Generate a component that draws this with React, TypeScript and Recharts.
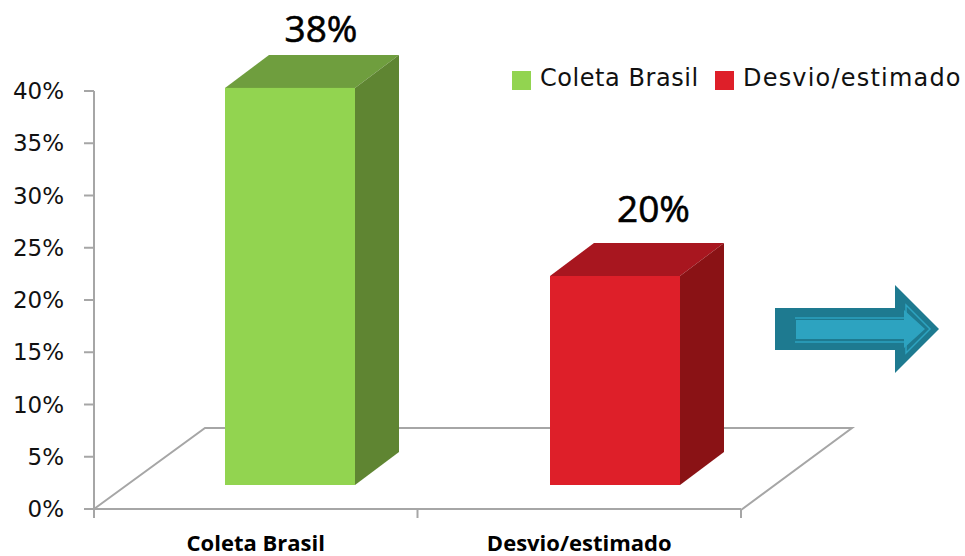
import { BarChart, Bar, XAxis, YAxis, LabelList, Customized } from 'recharts'

const categories = ['Coleta Brasil', 'Desvio/estimado']
const coletaValues = [38, null]
const desvioValues = [null, 20]
const yTicks = [0, 5, 10, 15, 20, 25, 30, 35, 40]

const records = categories.map((name, i) => ({
  name,
  coleta: coletaValues[i],
  desvio: desvioValues[i],
}))

const GREEN = { front: '#92d450', top: '#6f9e3e', side: '#5f8532' }
const RED = { front: '#de1f29', top: '#a8161f', side: '#8a1215' }
const AXIS = '#a6a6a6'
const SANS = '"DejaVu Sans", sans-serif'

// the fake 3D: boxes sit up and right of their band, with this depth
const SHIFT_Y = -24
const DEPTH_X = 44
const DEPTH_Y = 33
const HALF_BAND = 323.5 / 2

function box(colors: typeof GREEN, shiftX: number) {
  return function Box(props: any) {
    const { x, y, width, height } = props
    if (!height) return null
    const l = x + shiftX
    const r = l + width
    const t = y + SHIFT_Y
    const b = t + height
    const dx = DEPTH_X
    const dy = DEPTH_Y
    return (
      <g>
        <polygon points={`${l},${t} ${l + dx},${t - dy} ${r + dx},${t - dy} ${r},${t}`} fill={colors.top} />
        <polygon points={`${r},${t} ${r + dx},${t - dy} ${r + dx},${b - dy} ${r},${b}`} fill={colors.side} />
        <rect x={l} y={t} width={width} height={height} fill={colors.front} />
      </g>
    )
  }
}

function boxLabel(dx: number, dy: number) {
  return function BoxLabel(props: any) {
    const { x, y, width, value } = props
    if (value == null) return null
    return (
      <text
        x={x + width / 2 + dx}
        y={y + SHIFT_Y - DEPTH_Y - dy}
        textAnchor="middle"
        fontFamily='"Open Sans", sans-serif'
        fontSize={37}
        fill="#000"
        stroke="#000"
        strokeWidth={0.6}
      >
        {value}%
      </text>
    )
  }
}

// ticks of the category axis fall on the band edges, labels on the centres
function CategoryTick(props: any) {
  const { x, y, index, payload } = props
  const left = x - HALF_BAND
  const right = x + HALF_BAND
  return (
    <g>
      <line x1={left} x2={left} y1={y} y2={y + 9} stroke={AXIS} strokeWidth={2} />
      {index === categories.length - 1 && (
        <line x1={right} x2={right} y1={y} y2={y + 9} stroke={AXIS} strokeWidth={2} />
      )}
      <text
        x={x}
        y={y + 42}
        textAnchor="middle"
        fontFamily='"Open Sans", sans-serif'
        fontWeight={700}
        fontSize={22}
        fill="#000"
      >
        {payload.value}
      </text>
    </g>
  )
}

function Floor() {
  return (
    <polyline
      points="94,509 205,428 852,428 741,510"
      fill="none"
      stroke={AXIS}
      strokeWidth={2}
    />
  )
}

function Arrow() {
  return (
    <g>
      <polygon points="775,308 895,308 895,285 939,329 895,373 895,350 775,350" fill="#1e7a90" />
      <polyline points="795,318 906,318 906,305 930,329 906,353 906,342 795,342" fill="none" stroke="#2da3c0" strokeWidth={1.5} />
      <polygon points="796,320 904,320 904,310 925,329 904,348 904,339 796,339" fill="#2da3c0" />
    </g>
  )
}

function LegendRow() {
  const items = [
    { label: categories[0], color: GREEN.front, x: 512, spacing: 0.55 },
    { label: categories[1], color: RED.front, x: 715, spacing: 1.2 },
  ]
  return (
    <g>
      {items.map((it) => (
        <g key={it.label}>
          <rect x={it.x} y={71} width={19} height={19} fill={it.color} />
          <text x={it.x + 28} y={86} fontFamily={SANS} fontSize={24} letterSpacing={it.spacing} fill="#111">
            {it.label}
          </text>
        </g>
      ))}
    </g>
  )
}

export default function App() {
  return (
    <div style={{ position: 'absolute', left: 0, top: 0 }}>
      <BarChart
        width={965}
        height={556}
        data={records}
        margin={{ top: 91, right: 224, bottom: 0, left: 0 }}
      >
        <Customized component={Floor} />
        <XAxis
          dataKey="name"
          height={47}
          interval={0}
          axisLine={{ stroke: AXIS, strokeWidth: 2 }}
          tickLine={false}
          tickSize={0}
          tickMargin={0}
          tick={CategoryTick}
        />
        <YAxis
          width={94}
          domain={[0, 40]}
          ticks={yTicks}
          interval={0}
          tickFormatter={(v) => `${v}%`}
          axisLine={{ stroke: AXIS, strokeWidth: 2 }}
          tickLine={{ stroke: AXIS, strokeWidth: 2 }}
          tickSize={10}
          tickMargin={20}
          tick={{ fontFamily: SANS, fontSize: 23, fill: '#111' }}
        />
        <Bar dataKey="coleta" stackId="a" barSize={130} fill={GREEN.front} shape={box(GREEN, 34)} isAnimationActive={false}>
          <LabelList dataKey="coleta" content={boxLabel(65, 13)} />
        </Bar>
        <Bar dataKey="desvio" stackId="a" barSize={130} fill={RED.front} shape={box(RED, 35.5)} isAnimationActive={false}>
          <LabelList dataKey="desvio" content={boxLabel(74, 21)} />
        </Bar>
        <Customized component={LegendRow} />
        <Customized component={Arrow} />
      </BarChart>
    </div>
  )
}
